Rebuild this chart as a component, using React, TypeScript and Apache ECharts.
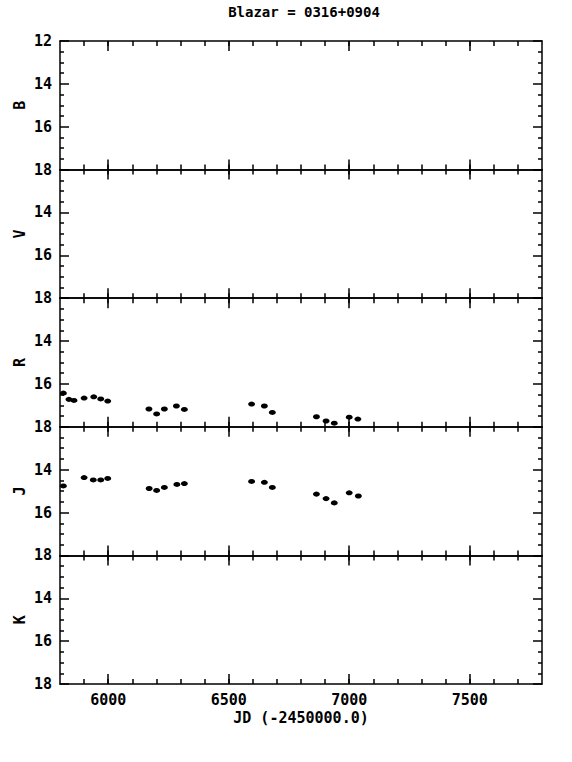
import React, { useEffect, useRef } from "react";
import * as echarts from "echarts";

const bandNames = ["B", "V", "R", "J", "K"];
const xMajorTicks = [6000, 6500, 7000, 7500];
const xMinorTicks = [5900, 6000, 6100, 6200, 6300, 6400, 6500, 6600, 6700, 6800, 6900, 7000, 7100, 7200, 7300, 7400, 7500, 7600, 7700];

const rJD = [5814, 5837, 5858, 5900, 5940, 5969, 5998, 6169, 6201, 6233, 6283, 6316, 6595, 6648, 6681, 6864, 6904, 6938, 7000, 7036];
const rMag = [16.43, 16.72, 16.77, 16.66, 16.6, 16.7, 16.8, 17.17, 17.4, 17.17, 17.03, 17.19, 16.94, 17.03, 17.33, 17.53, 17.73, 17.83, 17.55, 17.64];

const jJD = [5814, 5900, 5938, 5969, 5998, 6170, 6201, 6233, 6285, 6316, 6595, 6648, 6681, 6864, 6904, 6938, 7000, 7038];
const jMag = [14.76, 14.37, 14.48, 14.48, 14.41, 14.88, 14.97, 14.83, 14.69, 14.65, 14.55, 14.59, 14.83, 15.14, 15.35, 15.55, 15.08, 15.23];

const bandData: Record<string, [number[], number[]]> = {
  R: [rJD, rMag],
  J: [jJD, jMag],
};

const FONT = "DejaVu Sans Mono";
const INK = "#000";

export default function App() {
  const ref = useRef<HTMLDivElement>(null);
  useEffect(() => {
    if (!ref.current) return;
    const chart = echarts.init(ref.current, null, { renderer: "svg" });
    const top0 = 41;
    const bottom = 684;
    const h = (bottom - top0) / 5;
    const grids: any[] = [];
    const xAxes: any[] = [];
    const yAxes: any[] = [];
    const series: any[] = [];
    bandNames.forEach((name, i) => {
      grids.push({ left: 60, right: 30, top: top0 + i * h, height: h, containLabel: false });
      const last = i === bandNames.length - 1;
      const baseX = {
        gridIndex: i,
        type: "value",
        min: 5800,
        max: 7800,
        splitLine: { show: false },
      };
      ["bottom", "top"].forEach((pos) => {
        const labelled = last && pos === "bottom";
        xAxes.push({
          ...baseX,
          position: pos,
          axisLine: { show: true, lineStyle: { color: INK, width: 1.5 } },
          axisTick: { show: true, inside: true, length: 5, customValues: xMinorTicks, lineStyle: { color: INK, width: 1.5 } },
          axisLabel: { show: false },
        });
        xAxes.push({
          ...baseX,
          position: pos,
          axisLine: { show: false },
          axisTick: { show: true, inside: true, length: 10, customValues: xMajorTicks, lineStyle: { color: INK, width: 1.5 } },
          axisLabel: labelled
            ? {
                show: true,
                customValues: xMajorTicks,
                color: INK,
                fontFamily: FONT,
                fontWeight: "bold",
                fontSize: 15,
                margin: 8,
                formatter: (v: number) => String(v),
              }
            : { show: false },
          name: labelled ? "JD (-2450000.0)" : "",
          nameLocation: "middle",
          nameGap: 26,
          nameMoveOverlap: false,
          nameTextStyle: { color: INK, fontFamily: FONT, fontWeight: "bold", fontSize: 15 },
        });
      });
      const baseY = {
        gridIndex: i,
        type: "value",
        min: 12,
        max: 18,
        interval: 2,
        inverse: true,
        splitLine: { show: false },
        axisLine: { show: true, lineStyle: { color: INK, width: 1.5 } },
        axisTick: { show: true, inside: true, length: 9, lineStyle: { color: INK, width: 1.5 } },
        minorTick: { show: true, splitNumber: 4, length: 4, lineStyle: { color: INK, width: 1.5 } },
      };
      yAxes.push({
        ...baseY,
        position: "left",
        axisLabel: {
          show: true,
          color: INK,
          fontFamily: FONT,
          fontWeight: "bold",
          fontSize: 15,
          margin: 8,
          formatter: (v: number) => (v === 12 && i > 0 ? "" : String(v)),
        },
        name,
        nameLocation: "middle",
        nameGap: 33,
        nameMoveOverlap: false,
        nameRotate: 90,
        nameTextStyle: { color: INK, fontFamily: FONT, fontWeight: "bold", fontSize: 15 },
      });
      yAxes.push({
        ...baseY,
        position: "right",
        axisLabel: { show: false },
      });
      const d = bandData[name];
      if (d) {
        series.push({
          type: "scatter",
          xAxisIndex: i * 4,
          yAxisIndex: i * 2,
          symbol: "circle",
          symbolSize: [7, 5],
          itemStyle: { color: INK, opacity: 1 },
          data: d[0].map((x, k) => [x, d[1][k]]),
        });
      }
    });
    chart.setOption({
      animation: false,
      backgroundColor: "#fff",
      title: {
        text: "Blazar = 0316+0904",
        left: 299,
        top: 0,
        textAlign: "center",
        textStyle: { color: INK, fontFamily: FONT, fontWeight: "bold", fontSize: 14 },
      },
      grid: grids,
      xAxis: xAxes,
      yAxis: yAxes,
      series,
    });
    return () => chart.dispose();
  }, []);
  return (
    <div
      ref={ref}
      style={{ position: "fixed", left: 0, top: 0, width: 572, height: 762, background: "#fff" }}
    />
  );
}
